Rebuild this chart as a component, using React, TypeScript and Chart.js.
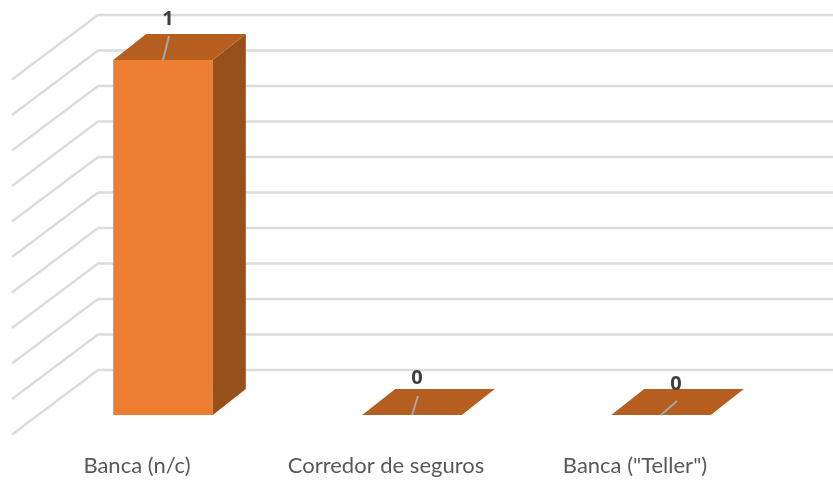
import { useEffect, useRef } from "react";
import { Chart, registerables } from "chart.js";

Chart.register(...registerables);

const categories = ["Banca (n/c)", "Corredor de seguros", 'Banca ("Teller")'];
const values = [1, 0, 0];
const valueLabels = ["1", "0", "0"];
const leaderOffsets = [[6, -24], [6, -19], [16, -14]];
const labelOffsets = [[5, -41], [5, -37], [15, -31]];

const wallBack = { dx: 59.5, dy: -45 };
const wallFront = { dx: -26.5, dy: 19.5 };
const barDepth = { dx: 33, dy: -26 };

const depthPlugin = {
  id: "depth",
  beforeDatasetsDraw(chart: any) {
    const { ctx, chartArea, scales } = chart;
    ctx.save();
    ctx.strokeStyle = "#dcdcdc";
    ctx.lineWidth = 2.5;
    scales.y.ticks.forEach((_t: any, i: number) => {
      const p = scales.y.getPixelForTick(i);
      ctx.beginPath();
      ctx.moveTo(chartArea.left + wallFront.dx, p + wallFront.dy);
      ctx.lineTo(chartArea.left + wallBack.dx, p + wallBack.dy);
      ctx.lineTo(chart.width, p + wallBack.dy);
      ctx.stroke();
    });
    ctx.restore();
  },
  afterDatasetsDraw(chart: any) {
    const { ctx } = chart;
    const meta = chart.getDatasetMeta(0);
    ctx.save();
    meta.data.forEach((bar: any, i: number) => {
      const half = bar.width / 2;
      const l = bar.x - half;
      const r = bar.x + half;
      const t = bar.y;
      const b = bar.base;
      const { dx, dy } = barDepth;
      if (b - t > 0.5) {
        ctx.fillStyle = "#974f1b";
        ctx.beginPath();
        ctx.moveTo(r, t);
        ctx.lineTo(r + dx, t + dy);
        ctx.lineTo(r + dx, b + dy);
        ctx.lineTo(r, b);
        ctx.closePath();
        ctx.fill();
      }
      ctx.fillStyle = "#b55e20";
      ctx.beginPath();
      ctx.moveTo(l, t);
      ctx.lineTo(l + dx, t + dy);
      ctx.lineTo(r + dx, t + dy);
      ctx.lineTo(r, t);
      ctx.closePath();
      ctx.fill();

      ctx.strokeStyle = "#a6a6a6";
      ctx.lineWidth = 2;
      ctx.beginPath();
      ctx.moveTo(bar.x, t);
      ctx.lineTo(bar.x + leaderOffsets[i][0], t + leaderOffsets[i][1]);
      ctx.stroke();

      ctx.fillStyle = "#404040";
      ctx.font = "bold 20px 'Open Sans'";
      ctx.textAlign = "center";
      ctx.textBaseline = "middle";
      ctx.fillText(valueLabels[i], bar.x + labelOffsets[i][0], t + labelOffsets[i][1]);
    });
    ctx.restore();
  },
};

export default function App() {
  const ref = useRef<HTMLCanvasElement>(null);
  useEffect(() => {
    const chart = new Chart(ref.current as HTMLCanvasElement, {
      type: "bar",
      data: {
        labels: categories,
        datasets: [
          {
            data: values,
            backgroundColor: "#ed7d31",
            categoryPercentage: 1,
            barPercentage: 0.4,
            borderWidth: 0,
          },
        ],
      },
      options: {
        animation: false,
        responsive: false,
        layout: { padding: { left: 38.5, right: 47.5, top: 60, bottom: 0 } },
        plugins: { legend: { display: false }, tooltip: { enabled: false } },
        scales: {
          x: {
            grid: { display: false },
            border: { display: false },
            afterFit: (s: any) => {
              s.height = 66;
            },
            ticks: {
              color: "#595959",
              font: { family: "Lato", size: 22 },
              labelOffset: -26,
              padding: 30,
              maxRotation: 0,
            },
          },
          y: {
            min: 0,
            max: 1,
            grid: { display: false },
            border: { display: false },
            afterFit: (s: any) => {
              s.width = 0;
            },
            ticks: { stepSize: 0.1, display: false },
          },
        },
      },
      plugins: [depthPlugin],
    } as any);
    return () => chart.destroy();
  }, []);
  return (
    <div style={{ position: "fixed", left: 0, top: 0, width: 833, height: 481, background: "#fff" }}>
      <canvas ref={ref} width={833} height={481} style={{ display: "block" }} />
    </div>
  );
}
